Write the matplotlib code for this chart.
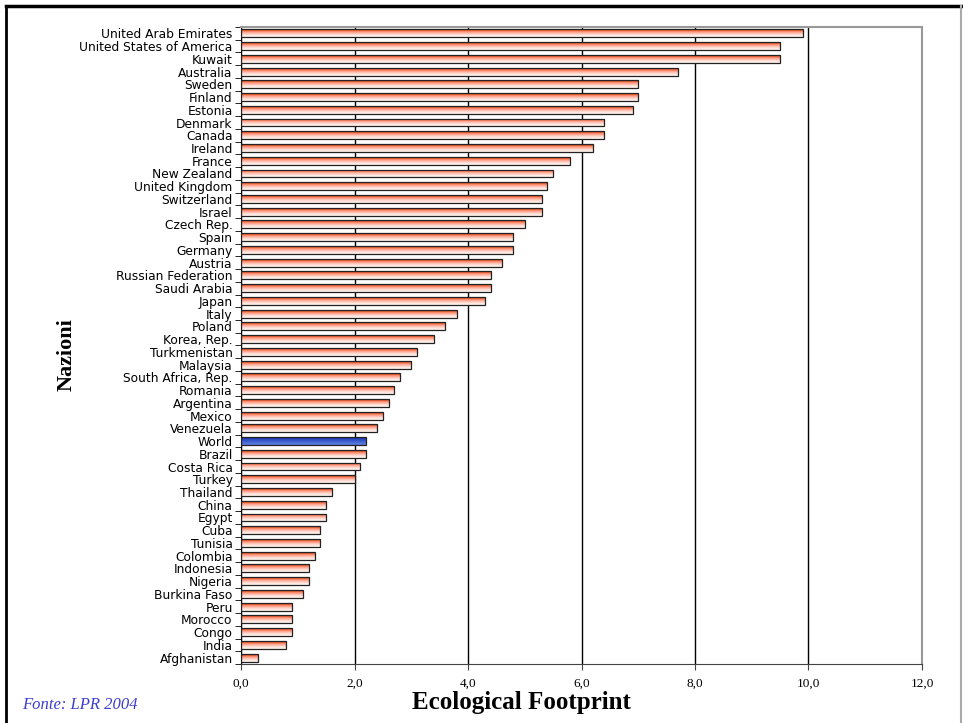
import numpy as np
import matplotlib.pyplot as plt
from matplotlib.colors import LinearSegmentedColormap
from matplotlib.lines import Line2D

countries = [
    "United Arab Emirates", "United States of America", "Kuwait", "Australia",
    "Sweden", "Finland", "Estonia", "Denmark", "Canada", "Ireland", "France",
    "New Zealand", "United Kingdom", "Switzerland", "Israel", "Czech Rep.",
    "Spain", "Germany", "Austria", "Russian Federation", "Saudi Arabia",
    "Japan", "Italy", "Poland", "Korea, Rep.", "Turkmenistan", "Malaysia",
    "South Africa, Rep.", "Romania", "Argentina", "Mexico", "Venezuela",
    "World", "Brazil", "Costa Rica", "Turkey", "Thailand", "China", "Egypt",
    "Cuba", "Tunisia", "Colombia", "Indonesia", "Nigeria", "Burkina Faso",
    "Peru", "Morocco", "Congo", "India", "Afghanistan",
]
footprint = [
    9.9, 9.5, 9.5, 7.7, 7.0, 7.0, 6.9, 6.4, 6.4, 6.2, 5.8,
    5.5, 5.4, 5.3, 5.3, 5.0, 4.8, 4.8, 4.6, 4.4, 4.4,
    4.3, 3.8, 3.6, 3.4, 3.1, 3.0, 2.8, 2.7, 2.6, 2.5, 2.4,
    2.2, 2.2, 2.1, 2.0, 1.6, 1.5, 1.5, 1.4, 1.4, 1.3, 1.2, 1.2, 1.1,
    0.9, 0.9, 0.9, 0.8, 0.3,
]
xticks = [0, 2, 4, 6, 8, 10, 12]
xtick_labels = ["0,0", "2,0", "4,0", "6,0", "8,0", "10,0", "12,0"]

red_grad = LinearSegmentedColormap.from_list(
    "red_grad", ["#b03000", "#ff7a55", "#ffb8a8", "#ffe4dc", "#fff6f2"])
blue_grad = LinearSegmentedColormap.from_list(
    "blue_grad", ["#102070", "#2848c0", "#3a5ad0", "#5070d8", "#6080e0"])

fig = plt.figure(figsize=(9.63, 7.23), dpi=100)
ax = fig.add_axes([0.2503, 0.0816, 0.7071, 0.8811])

y = np.arange(len(countries))
bars = ax.barh(y, footprint, height=0.62, color="none",
               edgecolor="#222222", linewidth=0.9, zorder=3)

# vertical gradient inside every bar, clipped to the bar outline
grad = np.linspace(0, 1, 64).reshape(-1, 1)
for name, bar in zip(countries, bars):
    x0, y0 = bar.get_x(), bar.get_y()
    x1, y1 = x0 + bar.get_width(), y0 + bar.get_height()
    cmap = blue_grad if name == "World" else red_grad
    im = ax.imshow(grad, cmap=cmap, aspect="auto", origin="upper",
                   extent=(x0, x1, y1, y0), zorder=2, interpolation="bilinear")
    im.set_clip_path(bar)

ax.set_xlim(0, 12)
ax.set_ylim(len(countries) - 0.5, -0.5)

ax.set_xticks(xticks)
ax.set_xticklabels(xtick_labels, fontfamily="Liberation Serif", fontsize=9.5)
ax.tick_params(axis="x", length=4, pad=6, color="#444444")
ax.xaxis.grid(True, color="black", linewidth=1)
ax.set_axisbelow(True)

ax.set_yticks(y)
ax.set_yticklabels(countries, fontsize=8.8, fontfamily="DejaVu Sans")
ax.set_yticks(np.arange(len(countries) + 1) - 0.5, minor=True)
ax.tick_params(axis="y", which="major", length=0, pad=6)
ax.tick_params(axis="y", which="minor", length=4, color="black")

for side in ["top", "right"]:
    ax.spines[side].set_color("#999999")
    ax.spines[side].set_linewidth(1.5)
ax.spines["left"].set_color("black")
ax.spines["bottom"].set_color("#444444")

fig.text(0.541, 0.012, "Ecological Footprint", fontfamily="Liberation Serif",
         fontweight="bold", fontsize=18, ha="center", va="bottom")
fig.text(0.0696, 0.509, "Nazioni", fontfamily="Liberation Serif",
         fontweight="bold", fontsize=16, rotation=90, ha="center", va="center")
fig.text(0.023, 0.014, "Fonte: LPR 2004", fontfamily="Liberation Serif",
         fontstyle="italic", fontsize=12, color="#3c3cd0", ha="left", va="bottom")

# slide frame
fig.add_artist(Line2D([0.006, 0.998], [0.992, 0.992], color="black", linewidth=2.5))
fig.add_artist(Line2D([0.006, 0.006], [0.0, 0.992], color="black", linewidth=2))
fig.add_artist(Line2D([0.998, 0.998], [0.0, 0.992], color="#aaaaaa", linewidth=1.5))

fig.savefig("out.png", dpi=100)
